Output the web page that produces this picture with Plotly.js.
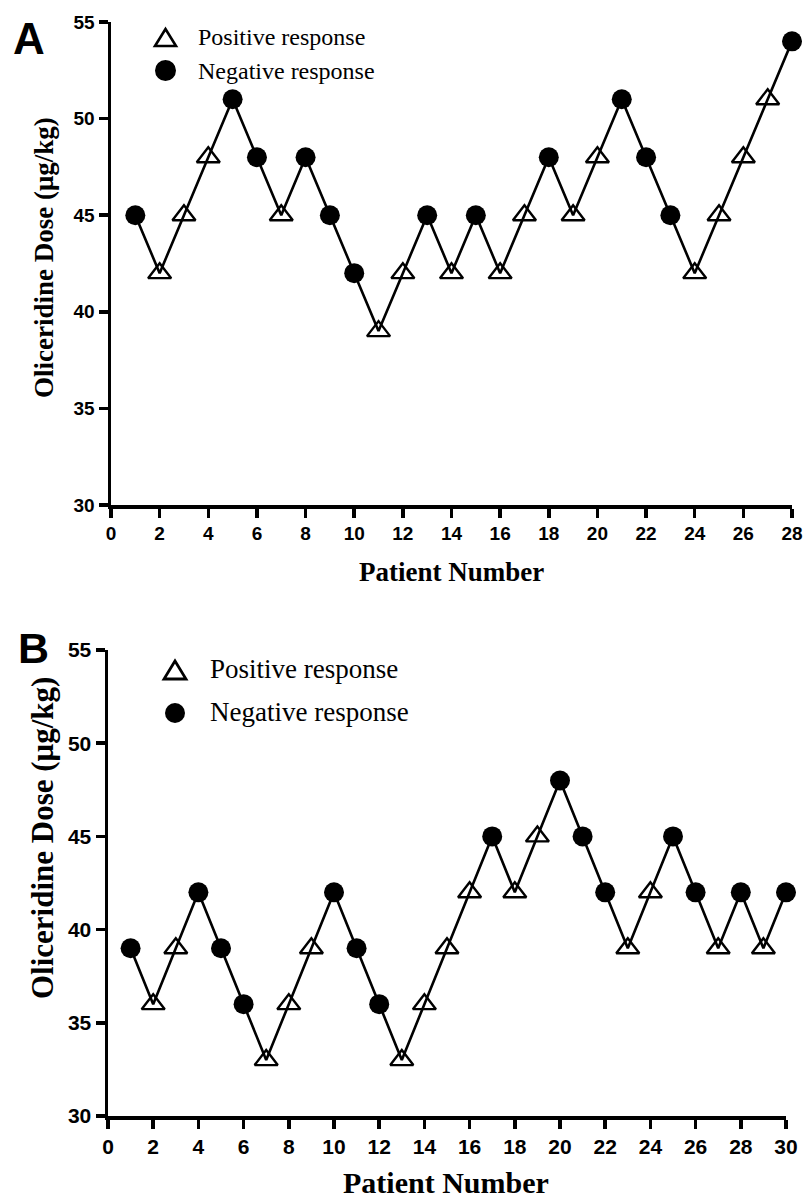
<!DOCTYPE html>
<html><head><meta charset="utf-8">
<script src="https://cdn.plot.ly/plotly-3.0.1.min.js"></script>
<style>html,body{margin:0;padding:0;background:#fff}</style>
</head><body>
<div id="chart" style="width:804px;height:1203px"></div>
<script>
// Panel A
const patientsA = [1,2,3,4,5,6,7,8,9,10,11,12,13,14,15,16,17,18,19,20,21,22,23,24,25,26,27,28];
const doseA     = [45,42,45,48,51,48,45,48,45,42,39,42,45,42,45,42,45,48,45,48,51,48,45,42,45,48,51,54];
const respA     = ['N','P','P','P','N','N','P','N','N','N','P','P','N','P','N','P','P','N','P','P','N','N','N','P','P','P','P','N'];
// Panel B
const patientsB = [1,2,3,4,5,6,7,8,9,10,11,12,13,14,15,16,17,18,19,20,21,22,23,24,25,26,27,28,29,30];
const doseB     = [39,36,39,42,39,36,33,36,39,42,39,36,33,36,39,42,45,42,45,48,45,42,39,42,45,42,39,42,39,42];
const respB     = ['N','P','P','N','N','N','P','P','P','N','N','N','P','P','P','P','N','P','P','N','N','N','P','P','N','N','P','N','P','N'];
const xTicksA = [0,2,4,6,8,10,12,14,16,18,20,22,24,26,28];
const xTicksB = [0,2,4,6,8,10,12,14,16,18,20,22,24,26,28,30];
const yTicks = [30,35,40,45,50,55];
const legendLabels = ['Positive response','Negative response'];
const xTitle = 'Patient Number';
const yTitle = 'Oliceridine Dose (μg/kg)';

const W = 804, H = 1203;
const px = v => v / W, py = v => 1 - v / H;

function pick(xs, ys, rs, k){
  const x=[],y=[];
  rs.forEach((r,i)=>{ if(r===k){x.push(xs[i]);y.push(ys[i]);} });
  return {x,y};
}
const pA = pick(patientsA, doseA, respA, 'P'), nA = pick(patientsA, doseA, respA, 'N');
const pB = pick(patientsB, doseB, respB, 'P'), nB = pick(patientsB, doseB, respB, 'N');

const triMarker = {symbol:'triangle-up-open', size:20, color:'#000', line:{width:2.4,color:'#000'}};
const cirMarker = {symbol:'circle', size:20, color:'#000', line:{width:0}};

const traces = [
  {x:patientsA, y:doseA, mode:'lines', line:{color:'#000', width:2.6}, xaxis:'x', yaxis:'y', cliponaxis:false},
  {x:pA.x, y:pA.y, mode:'markers', marker:triMarker, name:legendLabels[0], xaxis:'x', yaxis:'y', cliponaxis:false},
  {x:nA.x, y:nA.y, mode:'markers', marker:cirMarker, name:legendLabels[1], xaxis:'x', yaxis:'y', cliponaxis:false},
  {x:patientsB, y:doseB, mode:'lines', line:{color:'#000', width:2.6}, xaxis:'x2', yaxis:'y2', cliponaxis:false},
  {x:pB.x, y:pB.y, mode:'markers', marker:triMarker, name:legendLabels[0], xaxis:'x2', yaxis:'y2', cliponaxis:false},
  {x:nB.x, y:nB.y, mode:'markers', marker:cirMarker, name:legendLabels[1], xaxis:'x2', yaxis:'y2', cliponaxis:false}
];

const sans = 'Liberation Sans, Arial, sans-serif';
const serif = 'Liberation Serif, Times New Roman, serif';
function axisCommon(size){
  return {showline:true, linewidth:3.5, linecolor:'#000', ticks:'outside', ticklen:9, tickwidth:3.5, tickcolor:'#000',
    showgrid:false, zeroline:false, tickfont:{family:sans, size:size, color:'#000', weight:'bold'}};
}
const layout = {
  width:W, height:H, margin:{l:0,r:0,t:0,b:0}, paper_bgcolor:'#fff', plot_bgcolor:'#fff',
  showlegend:false,
  xaxis: Object.assign(axisCommon(19), {domain:[px(111), px(792)], range:[0,28], anchor:'y', tickvals:xTicksA, ticktext:xTicksA.map(String)}),
  yaxis: Object.assign(axisCommon(19), {domain:[py(505), py(22)], range:[30,55], anchor:'x', tickvals:yTicks, ticktext:yTicks.map(String)}),
  xaxis2: Object.assign(axisCommon(21), {domain:[px(108), px(786)], range:[0,30], anchor:'y2', tickvals:xTicksB, ticktext:xTicksB.map(String)}),
  yaxis2: Object.assign(axisCommon(21), {domain:[py(1116), py(650)], range:[30,55], anchor:'x2', tickvals:yTicks, ticktext:yTicks.map(String)}),
  shapes: [
    // legend A symbols
    {type:'path', xref:'paper', yref:'paper', line:{color:'#000', width:2.6}, fillcolor:'rgba(0,0,0,0)',
     path:`M${px(155)},${py(46)} L${px(176)},${py(46)} L${px(165.5)},${py(29)} Z`},
    {type:'circle', xref:'paper', yref:'paper', line:{width:0}, fillcolor:'#000',
     x0:px(155), x1:px(176), y0:py(81), y1:py(60)},
    // legend B symbols
    {type:'path', xref:'paper', yref:'paper', line:{color:'#000', width:2.8}, fillcolor:'rgba(0,0,0,0)',
     path:`M${px(164)},${py(679)} L${px(186)},${py(679)} L${px(175)},${py(661)} Z`},
    {type:'circle', xref:'paper', yref:'paper', line:{width:0}, fillcolor:'#000',
     x0:px(165), x1:px(185), y0:py(723), y1:py(703)}
  ],
  annotations:[
    {text:'A', x:px(11), y:py(39), xref:'paper', yref:'paper', xanchor:'left', yanchor:'middle', showarrow:false,
     font:{family:sans, size:44, color:'#000', weight:'bold'}},
    {text:'B', x:px(16), y:py(648), xref:'paper', yref:'paper', xanchor:'left', yanchor:'middle', showarrow:false,
     font:{family:sans, size:43, color:'#000', weight:'bold'}},
    {text:legendLabels[0], x:px(196), y:py(37), xref:'paper', yref:'paper', xanchor:'left', yanchor:'middle', showarrow:false,
     font:{family:serif, size:24, color:'#000'}},
    {text:legendLabels[1], x:px(196), y:py(71), xref:'paper', yref:'paper', xanchor:'left', yanchor:'middle', showarrow:false,
     font:{family:serif, size:24, color:'#000'}},
    {text:legendLabels[0], x:px(208), y:py(669), xref:'paper', yref:'paper', xanchor:'left', yanchor:'middle', showarrow:false,
     font:{family:serif, size:27, color:'#000'}},
    {text:legendLabels[1], x:px(208), y:py(712), xref:'paper', yref:'paper', xanchor:'left', yanchor:'middle', showarrow:false,
     font:{family:serif, size:27, color:'#000'}},
    {text:xTitle, x:px(451), y:py(572), xref:'paper', yref:'paper', xanchor:'center', yanchor:'middle', showarrow:false,
     font:{family:serif, size:27, color:'#000', weight:'bold'}},
    {text:yTitle, x:px(44), y:py(258), xref:'paper', yref:'paper', xanchor:'center', yanchor:'middle', showarrow:false, textangle:-90,
     font:{family:serif, size:27, color:'#000', weight:'bold'}},
    {text:xTitle, x:px(446), y:py(1182), xref:'paper', yref:'paper', xanchor:'center', yanchor:'middle', showarrow:false,
     font:{family:serif, size:30, color:'#000', weight:'bold'}},
    {text:yTitle, x:px(42), y:py(838), xref:'paper', yref:'paper', xanchor:'center', yanchor:'middle', showarrow:false, textangle:-90,
     font:{family:serif, size:31, color:'#000', weight:'bold'}}
  ]
};
Plotly.newPlot('chart', traces, layout, {displayModeBar:false, staticPlot:true});
</script>
</body></html>
